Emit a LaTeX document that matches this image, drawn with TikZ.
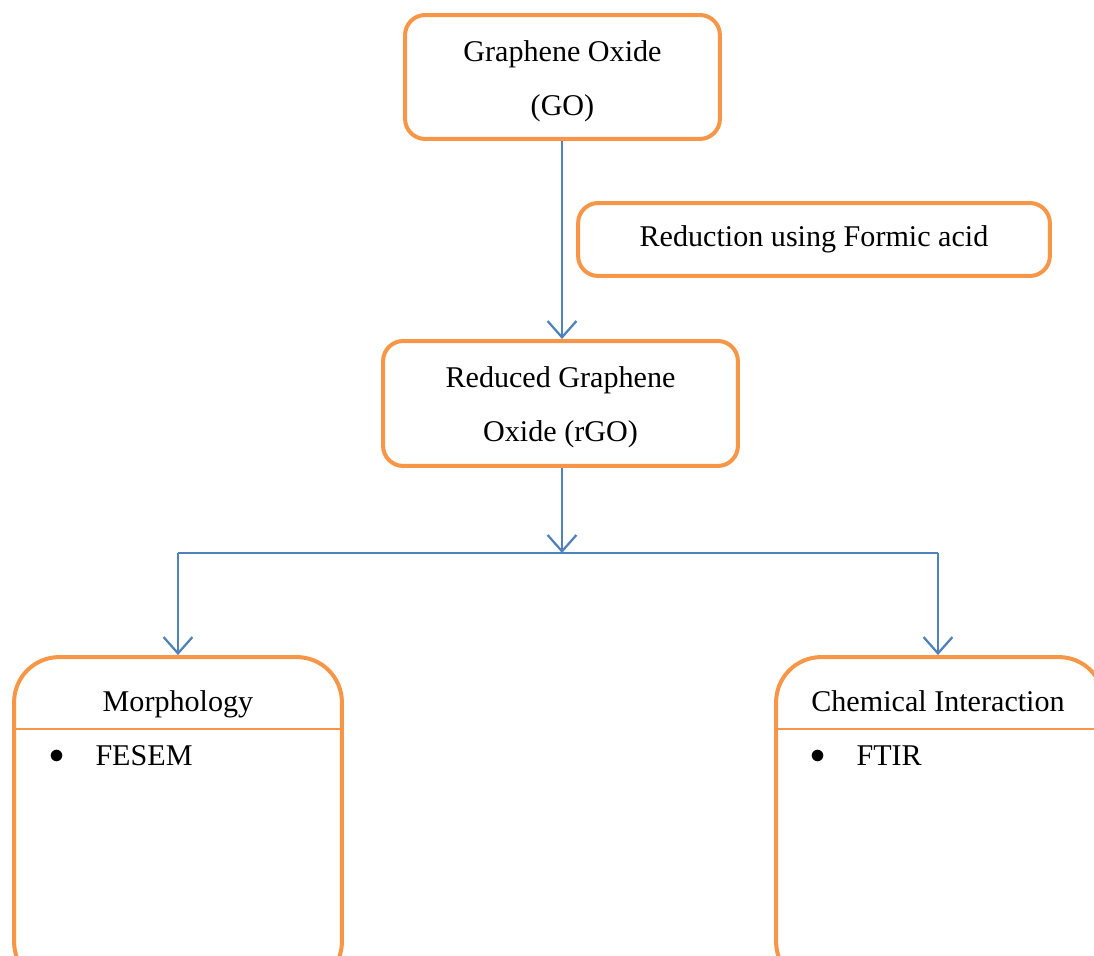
\documentclass[tikz,border=0pt]{standalone}
\usepackage{fontspec}
\setmainfont{Liberation Serif}
\usetikzlibrary{positioning,arrows.meta}
\definecolor{boxorange}{HTML}{F79646}
\definecolor{linkblue}{HTML}{4F81BD}
\newcommand{\topstrut}{\rule{0pt}{11.6pt}}

\begin{document}
\begin{tikzpicture}[x=0.014cm, y=-0.014cm,
  box/.style={draw=boxorange, line width=1.6pt, rounded corners=8pt, align=center,
    font=\fontsize{12}{21.5}\selectfont, inner sep=0pt},
  bigbox/.style={draw=boxorange, line width=1.6pt, rounded corners=18pt, inner sep=0pt,
    minimum width=4.592cm, minimum height=4.62cm},
  txt/.style={font=\fontsize{12}{14}\selectfont, inner sep=0pt},
  link/.style={draw=linkblue, line width=0.9pt},
  >={Straight Barb[length=6.5pt,width=11.5pt]}]
  \useasboundingbox (0,0) rectangle (1094,956);
  \clip (0,0) rectangle (1094,956);

  \node[box, minimum width=4.41cm, minimum height=1.736cm] (go) at (562.5,77)
    {\topstrut Graphene Oxide\\(GO)};
  \node[box, minimum width=6.608cm, minimum height=1.022cm] (red) at (814,239.5)
    {Reduction using Formic acid};
  \node[box, minimum width=4.97cm, minimum height=1.75cm] (rgo) at (560.5,403.5)
    {\topstrut Reduced Graphene\\Oxide (rGO)};

  % bottom boxes (cut by the page edge)
  \node[bigbox] (morph) at (178,822) {};
  \node[bigbox] (chem) at (940,822) {};
  \node[txt, anchor=base] (morphtitle) at (178,712) {Morphology};
  \node[txt, anchor=base] (chemtitle) at (938,712) {Chemical Interaction};
  \draw[draw=boxorange, line width=0.8pt] (morph.west |- 0,729) -- (morph.east |- 0,729);
  \draw[draw=boxorange, line width=0.8pt] (chem.west |- 0,729) -- (chem.east |- 0,729);
  \node[txt] (morphdot) at (57,757) {$\bullet$};
  \node[txt, anchor=base west] (fesem) at (95,766) {FESEM};
  \node[txt] (chemdot) at (818,757) {$\bullet$};
  \node[txt, anchor=base west] (ftir) at (856,766) {FTIR};

  \coordinate (split) at (562,553);
  \coordinate (lft) at (178,553);
  \coordinate (rgt) at (938,553);

  \draw[link, ->] (go.south -| 562,0) -- (rgo.north -| 562,0);
  \draw[link, ->] (rgo.south -| 562,0) -- (split);
  \draw[link] (lft) -- (rgt);
  \draw[link, ->] (lft) -- (morph.north);
  \draw[link, ->] (rgt) -- (rgt |- chem.north);
\end{tikzpicture}
\end{document}
